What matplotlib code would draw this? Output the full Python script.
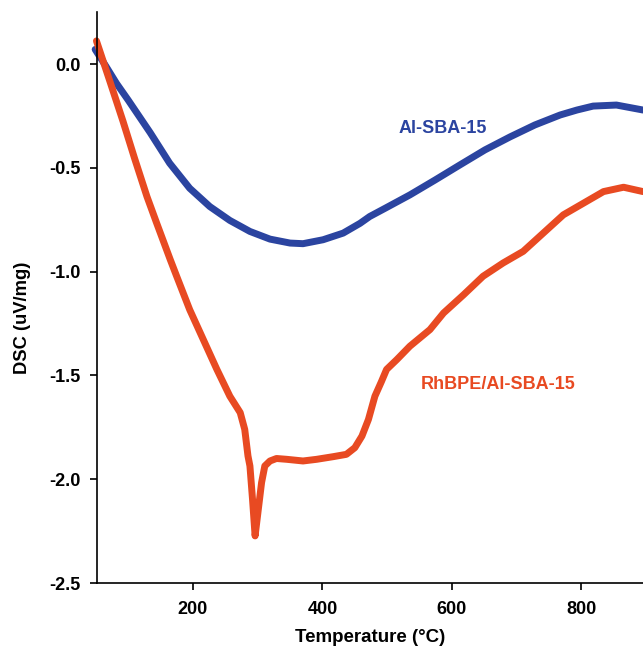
import numpy as np
import matplotlib
matplotlib.use("Agg")
import matplotlib.pyplot as plt

plt.rcParams['font.family'] = ['Liberation Sans', 'DejaVu Sans']
plt.rcParams['font.weight'] = 'bold'

# Al-SBA-15 curve
t_al = [49, 66, 82, 100, 108, 134, 164, 195, 226, 257, 288, 319, 350, 370,
        401, 432, 458, 473, 497, 535, 574, 612, 651, 690, 728, 767, 793, 818,
        854, 895]
dsc_al = [0.071, -0.012, -0.093, -0.173, -0.21, -0.33, -0.477, -0.598,
          -0.686, -0.753, -0.806, -0.843, -0.862, -0.865, -0.846, -0.814,
          -0.767, -0.734, -0.694, -0.63, -0.558, -0.486, -0.413, -0.35,
          -0.293, -0.245, -0.221, -0.202, -0.197, -0.221]

# RhBPE/Al-SBA-15 curve
t_rh = [51, 72, 82, 92, 110, 129, 144, 165, 175, 195, 216, 237, 257, 273,
        280, 285, 288, 292, 296, 301, 306, 311, 319, 329, 345, 370, 391, 417,
        437, 450, 461, 471, 481, 491, 499, 515, 535, 566, 587, 618, 648, 679,
        710, 741, 772, 803, 834, 865, 895]
dsc_rh = [0.112, -0.085, -0.18, -0.275, -0.455, -0.638, -0.766, -0.942,
          -1.023, -1.183, -1.327, -1.471, -1.6, -1.679, -1.76, -1.888,
          -1.936, -2.096, -2.273, -2.144, -2.016, -1.936, -1.912, -1.90,
          -1.904, -1.912, -1.904, -1.891, -1.88, -1.848, -1.792, -1.712,
          -1.6, -1.53, -1.471, -1.423, -1.359, -1.279, -1.199, -1.111,
          -1.022, -0.958, -0.902, -0.814, -0.726, -0.67, -0.614, -0.593,
          -0.614]

blue = '#2B44A0'
red = '#E84A22'

fig = plt.figure(figsize=(6.43, 6.46), dpi=100)
ax = fig.add_axes([0.151, 0.0975, 0.849, 0.8835])

ax.plot(t_al, dsc_al, color=blue, lw=5, solid_capstyle='round',
        solid_joinstyle='round', clip_on=False)
ax.plot(t_rh, dsc_rh, color=red, lw=5, solid_capstyle='round',
        solid_joinstyle='round', clip_on=False)

ax.set_xlim(52, 895)
ax.set_ylim(-2.5, 0.25)
ax.set_xticks([200, 400, 600, 800])
ax.set_yticks([0.0, -0.5, -1.0, -1.5, -2.0, -2.5])
ax.set_yticklabels(['0.0', '-0.5', '-1.0', '-1.5', '-2.0', '-2.5'])

for s in ['top', 'right']:
    ax.spines[s].set_visible(False)
for s in ['left', 'bottom']:
    ax.spines[s].set_linewidth(1.2)
ax.tick_params(direction='out', length=5, width=1.2, labelsize=13)
ax.tick_params(axis='x', pad=8)
ax.tick_params(axis='y', pad=7)

ax.set_xlabel('Temperature (°C)', fontsize=13.5, fontweight='bold',
              labelpad=8)
ax.set_ylabel('DSC (uV/mg)', fontsize=13.2, fontweight='bold')
ax.yaxis.set_label_coords(-0.121, 0.464)

ax.text(585, -0.308, 'Al-SBA-15', color=blue, fontsize=13, fontweight='bold',
        ha='center', va='center')
ax.text(671, -1.543, 'RhBPE/Al-SBA-15', color=red, fontsize=13,
        fontweight='bold', ha='center', va='center')

fig.savefig('out.png', dpi=100)
